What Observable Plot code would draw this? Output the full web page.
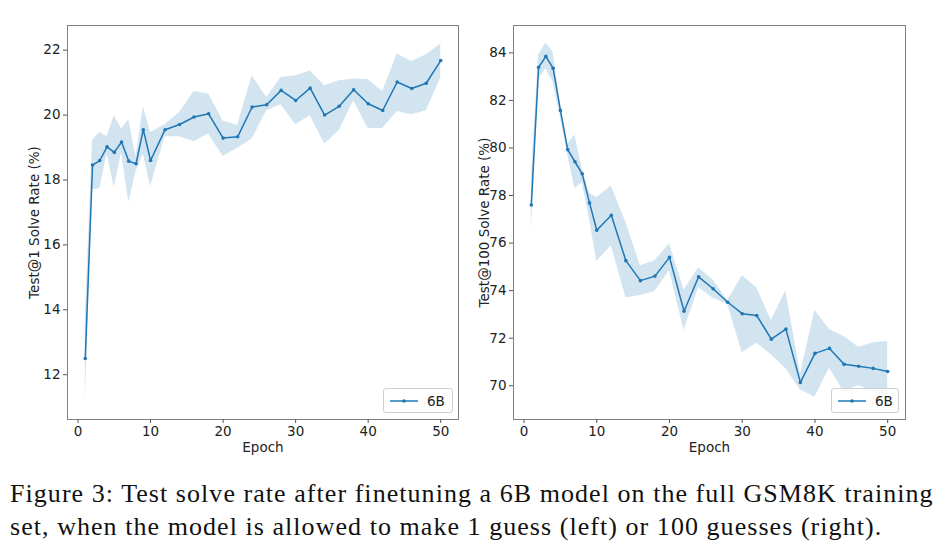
<!DOCTYPE html>
<html>
<head>
<meta charset="utf-8">
<script src="https://cdn.jsdelivr.net/npm/d3@7"></script>
<script src="https://cdn.jsdelivr.net/npm/@observablehq/plot@0.6"></script>
<style>
  html, body { margin: 0; padding: 0; background: #fff; }
  #wrap { position: relative; width: 949px; height: 557px; overflow: hidden; font-family: "DejaVu Sans", sans-serif; }
  #left, #right { position: absolute; top: 0; }
  #left { left: 0; }
  #right { left: 470px; }
  .legend { position: absolute; box-sizing: border-box; border: 1px solid #d0d0d0; border-radius: 3px; background: rgba(255,255,255,0.85);
    font-family: "DejaVu Sans", sans-serif; font-size: 13.5px; color: #222; display: flex; align-items: center; }
  .legend svg { margin-left: 6px; margin-right: 9px; }
  #caption { position: absolute; left: 10px; top: 477px; font-family: "Liberation Serif", "DejaVu Serif", serif; font-size: 26px; letter-spacing: 1.05px; line-height: 33px; color: #111; white-space: nowrap; }
</style>
</head>
<body>
<div id="wrap">
  <div id="left"></div>
  <div id="right"></div>
  <div class="legend" style="left:383px; top:388px; width:70px; height:25px;">
    <svg width="28" height="10"><line x1="0" y1="5" x2="28" y2="5" stroke="#1f77b4" stroke-width="1.5"/><circle cx="14" cy="5" r="1.8" fill="#1f77b4"/></svg>6B
  </div>
  <div class="legend" style="left:831px; top:388px; width:68px; height:25px;">
    <svg width="28" height="10"><line x1="0" y1="5" x2="28" y2="5" stroke="#1f77b4" stroke-width="1.5"/><circle cx="14" cy="5" r="1.8" fill="#1f77b4"/></svg>6B
  </div>
  <div id="caption">Figure 3: Test solve rate after finetuning a 6B model on the full GSM8K training<br>set, when the model is allowed to make 1 guess (left) or 100 guesses (right).</div>
</div>
<script>
const epochs = [1,2,3,4,5,6,7,8,9,10,12,14,16,18,20,22,24,26,28,30,32,34,36,38,40,42,44,46,48,50];

const leftMean = [12.50,18.46,18.60,19.02,18.85,19.17,18.58,18.50,19.55,18.60,19.55,19.71,19.94,20.04,19.29,19.33,20.25,20.32,20.76,20.45,20.83,20.00,20.27,20.78,20.35,20.14,21.02,20.82,20.98,21.68];
const leftLo   = [11.20,17.70,17.73,18.80,17.77,18.85,17.31,18.25,18.80,17.80,19.33,19.33,19.18,19.42,18.72,18.98,19.26,20.13,20.32,19.70,19.98,19.11,19.52,20.44,19.59,19.59,20.11,20.01,20.13,21.14];
const leftHi   = [13.80,19.22,19.47,19.33,19.98,19.57,19.86,18.70,20.26,19.46,19.70,20.08,20.73,20.65,19.82,19.69,21.21,20.54,21.16,21.21,21.36,20.90,21.06,21.11,21.09,20.73,21.88,21.65,21.86,22.18];

const rightMean = [77.60,83.39,83.85,83.35,81.58,79.93,79.42,78.91,77.69,76.54,77.17,75.26,74.42,74.61,75.40,73.13,74.58,74.08,73.51,73.03,72.95,71.96,72.38,70.14,71.36,71.57,70.90,70.82,70.73,70.60];
const rightLo   = [76.50,82.90,83.32,82.76,81.30,79.70,78.28,78.55,77.00,75.22,75.89,73.70,73.79,73.97,74.84,72.32,74.12,73.68,73.42,71.39,71.79,71.30,70.71,69.83,69.52,70.74,69.73,70.01,69.73,69.60];
const rightHi   = [78.70,83.91,84.41,84.02,81.85,80.17,80.55,79.12,78.10,77.92,78.39,76.88,75.05,75.26,75.97,74.03,74.96,74.45,73.58,74.63,74.12,72.74,73.98,70.50,73.16,72.37,72.07,71.62,71.81,71.86];

const xTicks = [0,10,20,30,40,50];
const leftYTicks = [12,14,16,18,20,22];
const rightYTicks = [70,72,74,76,78,80,82,84];

const COLOR = "#1f77b4";

function rows(mean, lo, hi) {
  return epochs.map((e, i) => ({epoch: e, mean: mean[i], lo: lo[i], hi: hi[i]}));
}

function panel({data, width, marginLeft, marginRight, yDomain, yTicks, yLabel, yLabelOffset}) {
  return Plot.plot({
    width, height: 460,
    marginTop: 25, marginBottom: 41, marginLeft, marginRight,
    style: {fontFamily: "DejaVu Sans, sans-serif", fontSize: "13.5px", color: "#222", background: "white"},
    x: {domain: [-1.45, 52.45]},
    y: {domain: yDomain},
    marks: [
      Plot.areaY(data, {x: "epoch", y1: "lo", y2: "hi", fill: COLOR, fillOpacity: 0.2, curve: "linear"}),
      Plot.line(data, {x: "epoch", y: "mean", stroke: COLOR, strokeWidth: 1.5}),
      Plot.dot(data, {x: "epoch", y: "mean", r: 1.8, fill: COLOR, stroke: "none"}),
      Plot.frame({stroke: "#808080", strokeWidth: 1}),
      Plot.axisX({ticks: xTicks, tickSize: 4, tickPadding: 3, fontSize: 13.5, stroke: "#555",
        label: "Epoch", labelAnchor: "center", labelArrow: "none", labelOffset: 32}),
      Plot.axisY({ticks: yTicks, tickSize: 4, tickPadding: 3, fontSize: 13.5, stroke: "#555",
        label: yLabel, labelAnchor: "center", labelArrow: "none", labelOffset: yLabelOffset})
    ]
  });
}

document.getElementById("left").appendChild(panel({
  data: rows(leftMean, leftLo, leftHi), width: 470, marginLeft: 67, marginRight: 12,
  yDomain: [10.62, 22.76], yTicks: leftYTicks, yLabel: "Test@1 Solve Rate (%)", yLabelOffset: 38
}));
document.getElementById("right").appendChild(panel({
  data: rows(rightMean, rightLo, rightHi), width: 479, marginLeft: 43, marginRight: 44,
  yDomain: [68.58, 85.15], yTicks: rightYTicks, yLabel: "Test@100 Solve Rate (%)", yLabelOffset: 34
}));
</script>
</body>
</html>
